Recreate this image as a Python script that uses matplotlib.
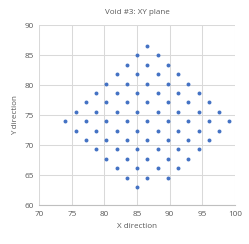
import numpy as np
import matplotlib
matplotlib.use('Agg')
import matplotlib.pyplot as plt

# x columns used by the void points
cols = [74.01, 75.58, 77.15, 78.72, 80.29, 81.86, 83.43, 85.0, 86.57,
        88.14, 89.71, 91.28, 92.85, 94.42, 95.99, 97.56, 99.13]

# each row: y value and the column indices present on that row
row_y = [86.57, 85.0, 83.43, 81.86, 80.29, 78.72, 77.15, 75.58, 74.01,
         72.44, 70.87, 69.3, 67.73, 66.16, 64.59, 63.02]
row_cols = [
    [8],
    [7, 9],
    [6, 8, 10],
    [5, 7, 9, 11],
    [4, 6, 8, 10, 12],
    [3, 5, 7, 9, 11, 13],
    [2, 4, 6, 8, 10, 12, 14],
    [1, 3, 5, 7, 9, 11, 13, 15],
    [0, 2, 4, 6, 8, 10, 12, 14, 16],
    [1, 3, 5, 7, 9, 11, 13, 15],
    [2, 4, 6, 8, 10, 12, 14],
    [3, 5, 7, 9, 11, 13],
    [4, 6, 8, 10, 12],
    [5, 7, 9, 11],
    [6, 8, 10],
    [7],
]

xs, ys = [], []
for y, idx in zip(row_y, row_cols):
    for i in idx:
        xs.append(cols[i])
        ys.append(y)

plt.rcParams['font.family'] = ['Open Sans', 'DejaVu Sans']
txt = '#595959'
fig = plt.figure(figsize=(2.49, 2.44), dpi=100)
ax = fig.add_axes([0.157, 0.159, 0.787, 0.737])
ax.scatter(xs, ys, s=8, c='#4472C4', linewidths=0, zorder=3)
ax.set_xlim(70, 100)
ax.set_ylim(60, 90)
ax.set_xticks(np.arange(70, 101, 5))
ax.set_yticks(np.arange(60, 91, 5))
ax.grid(True, color='#d9d9d9', linewidth=0.75)
for s in ['top', 'right', 'left']:
    ax.spines[s].set_visible(False)
ax.spines['bottom'].set_color('#bfbfbf')
ax.spines['bottom'].set_linewidth(0.8)
ax.tick_params(length=0, labelsize=5.9, colors=txt, pad=4)
ax.set_xlabel('X direction', fontsize=5.8, color=txt, labelpad=4)
ax.set_ylabel('Y direction', fontsize=5.8, color=txt, labelpad=4)
ax.set_title('Void #3: XY plane', fontsize=5.8, color=txt, pad=8)
fig.savefig('out.png', dpi=100)
